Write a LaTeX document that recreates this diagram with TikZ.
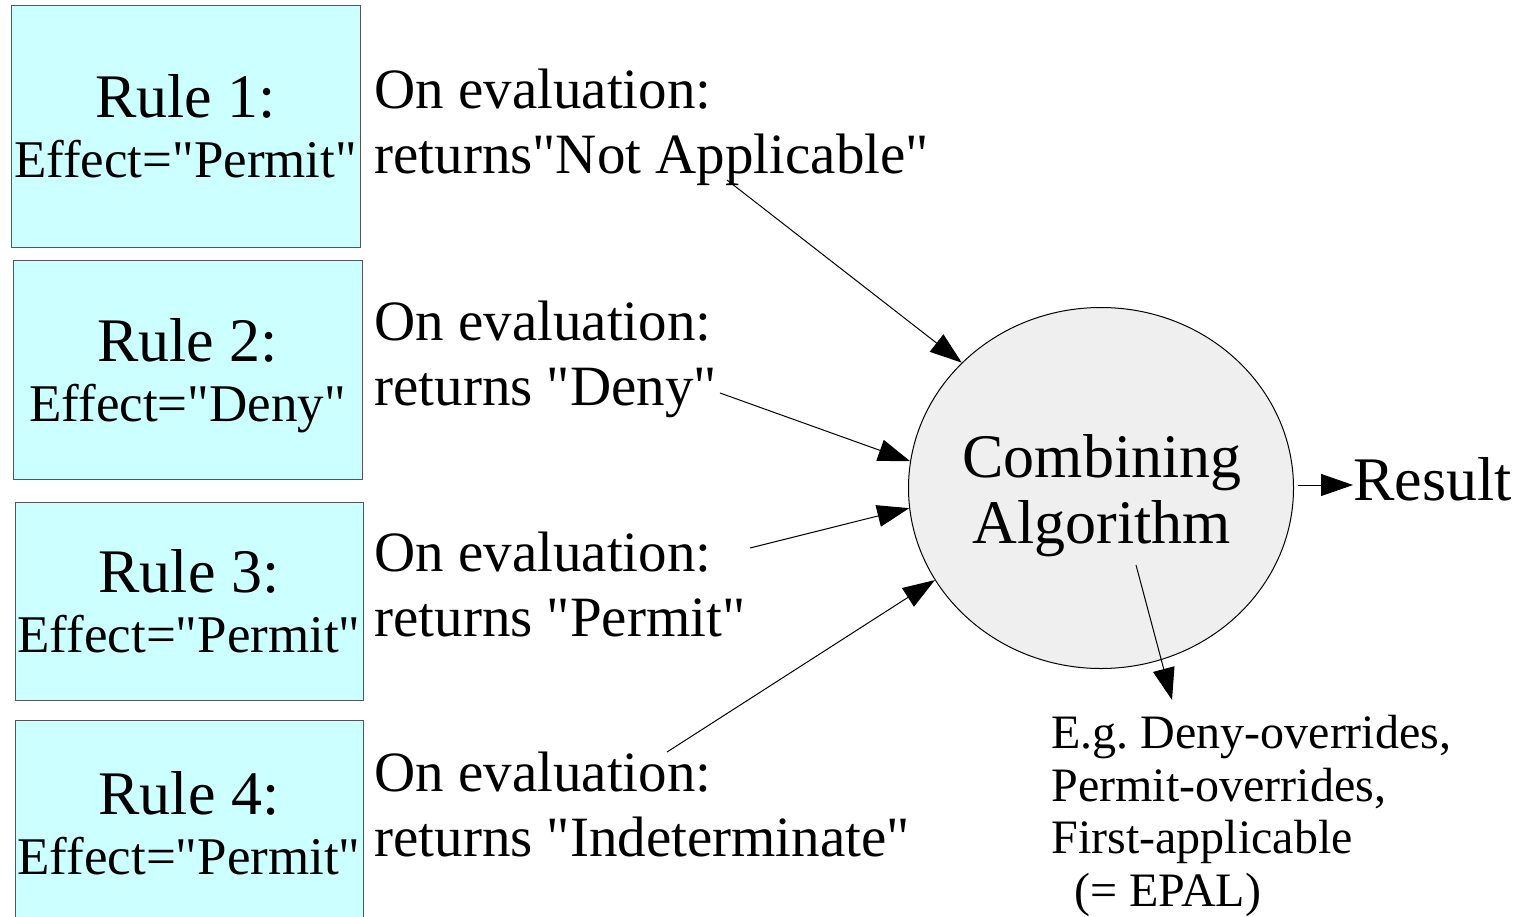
\documentclass[tikz,border=0pt]{standalone}
\usepackage{fontspec}
\setmainfont{Liberation Serif}[Ligatures=TeXOff]
\usetikzlibrary{arrows.meta,shapes.geometric}

\definecolor{rulefill}{HTML}{CCFFFF}
\definecolor{algfill}{HTML}{EFEFEF}
\definecolor{ruleedge}{HTML}{555555}

\tikzset{
  rulebox/.style={draw=ruleedge, line width=0.5pt, fill=rulefill, rectangle,
    inner sep=0pt, align=center, text depth=0pt,
    font=\fontsize{26.5}{30}\selectfont},
  evaltext/.style={anchor=north west, inner sep=0pt, align=left,
    font=\fontsize{28.5}{32.5}\selectfont},
  flow/.style={line width=0.5pt, -{Triangle[length=16pt,width=11pt]}},
  bigword/.style={font=\fontsize{31}{33}\selectfont},
}

\newcommand{\rulehead}[1]{{\fontsize{31}{33}\selectfont Rule #1:}}

\begin{document}
\frenchspacing
\begin{tikzpicture}[x=0.5pt, y=-0.5pt]
  \useasboundingbox (0,0) rectangle (1524,916);

  % rule boxes
  \node[rulebox, minimum width=174.5pt, minimum height=121pt] (r1) at (185.5,126)
    {\rulehead{1}\\Effect="Permit"};
  \node[rulebox, minimum width=174.5pt, minimum height=109.5pt] (r2) at (187.5,369.5)
    {\rulehead{2}\\Effect="Deny"};
  \node[rulebox, minimum width=174pt, minimum height=99pt] (r3) at (189,601)
    {\rulehead{3}\\Effect="Permit"};
  \node[rulebox, minimum width=174pt, minimum height=103pt] (r4) at (189,823)
    {\rulehead{4}\\Effect="Permit"};

  % evaluation outcomes
  \node[evaltext] (e1) at (374,69)  {On evaluation:\\returns"Not Applicable"};
  \node[evaltext] (e2) at (374,301) {On evaluation:\\returns "Deny"};
  \node[evaltext] (e3) at (374,532) {On evaluation:\\returns "Permit"};
  \node[evaltext] (e4) at (374,752) {On evaluation:\\returns "Indeterminate"};

  % combining algorithm
  \node[ellipse, draw, line width=0.5pt, fill=algfill, minimum width=192.5pt,
        minimum height=180.5pt, inner sep=0pt] (alg) at (1101,488) {};
  \node[bigword, align=center, inner sep=0pt, text depth=0pt] (algtext) at (1102,489)
    {Combining\\Algorithm};

  \node[bigword, anchor=base west, inner sep=0pt] (result) at (1353,500) {Result};

  \node[anchor=north west, inner sep=0pt, align=left,
        font=\fontsize{24}{26.25}\selectfont] (note) at (1051,715)
    {E.g. Deny-overrides,\\Permit-overrides,\\First-applicable\\\hspace*{11.5pt}(= EPAL)};

  % connector ends
  \coordinate (s1) at (727,180);
  \coordinate (s2) at (720,393);
  \coordinate (s3) at (750,548);
  \coordinate (s4) at (667,752);
  \coordinate (s5) at (1136,565);
  \coordinate (t5) at (1172,700);
  \coordinate (s6) at (1298,485);

  \draw[flow] (s1) -- (alg.138.8);
  \draw[flow] (s2) -- (alg.172);
  \draw[flow] (s3) -- (alg.186.6);
  \draw[flow] (s4) -- (alg.209);
  \draw[flow] (s5) -- (t5);
  \draw[flow] (s6) -- (result.west |- s6);
\end{tikzpicture}
\end{document}
